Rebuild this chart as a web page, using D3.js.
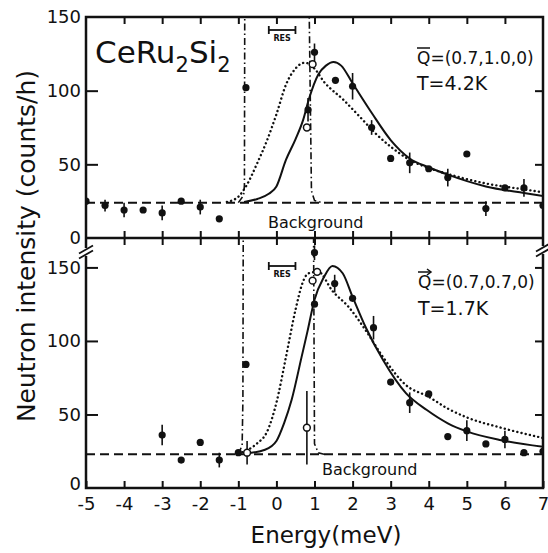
<!DOCTYPE html>
<html>
<head>
<meta charset="utf-8">
<script src="https://cdn.jsdelivr.net/npm/d3@7"></script>
<style>
  html, body { margin: 0; padding: 0; background: #fff; }
  svg { display: block; }
  text { font-family: "DejaVu Sans", "Noto Sans", sans-serif; fill: #111; }
</style>
</head>
<body>
<svg id="chart" width="548" height="553"></svg>
<script>
// ---- axis ticks ----
const energyTicks = d3.range(-5, 8);            // meV
const intensityTicks = [0, 50, 100, 150];        // counts/h

// ---- upper panel: Q = (0.7, 1.0, 0), T = 4.2 K ----
// [energy, intensity, error]
const upperFilled = [
  [-5.0, 25, 0], [-4.5, 22, 4], [-4.0, 19, 5], [-3.5, 19, 0], [-3.0, 17, 5],
  [-2.5, 25, 0], [-2.0, 21, 5], [-1.5, 13, 0], [-0.8, 102, 0], [0.83, 87, 8],
  [1.0, 126, 6], [1.55, 107, 0], [2.0, 103, 9], [2.5, 75, 5], [3.0, 54, 0],
  [3.5, 51, 7], [4.0, 47, 0], [4.5, 41, 6], [5.0, 57, 0], [5.5, 20, 5],
  [6.0, 34, 0], [6.5, 34, 6], [7.0, 22, 0]
];
const upperOpen = [[0.8, 75, 0], [0.95, 118, 0]];
const upperFit = [
  [-0.85, 24.5], [-0.5, 26.5], [-0.2, 30], [0, 35], [0.25, 53], [0.5, 67],
  [0.7, 80], [0.85, 94], [1.1, 111], [1.3, 117], [1.5, 119.5], [1.7, 117],
  [2.0, 105], [2.5, 85], [3.0, 66.5], [3.5, 54], [4.0, 48], [4.5, 43],
  [5.5, 35], [6.5, 30.5], [7.0, 28.5]
];
const upperModel = [
  [-1.3, 24.5], [-1.0, 28], [-0.8, 35], [-0.5, 51], [-0.25, 66], [0, 84],
  [0.25, 104], [0.5, 115], [0.75, 119], [1.0, 115], [1.25, 106], [1.75, 94],
  [2.2, 82], [2.6, 71], [3.0, 62], [3.5, 53], [4.0, 47.5], [4.5, 43.5],
  [5.5, 37], [6.5, 33], [7.0, 31]
];
const upperElastic = [
  [-1.0, 24], [-0.86, 29], [-0.84, 36], [-0.82, 320],
  [0.78, 320], [0.92, 32], [1.0, 25.5], [1.2, 24]
];
const upperBackground = 24;

// ---- lower panel: Q = (0.7, 0.7, 0), T = 1.7 K ----
const lowerFilled = [
  [-3.0, 36, 7], [-2.5, 19, 0], [-2.0, 31, 0], [-1.5, 19, 5], [-1.0, 24, 0],
  [-0.8, 84, 0], [1.0, 160, 5], [1.0, 125, 0], [1.53, 139, 6], [2.0, 129, 0],
  [2.55, 109, 8], [3.0, 72, 0], [3.5, 58, 7], [4.0, 64, 0], [4.5, 35, 0],
  [5.0, 39, 7], [5.5, 30, 0], [6.0, 33, 6], [6.5, 24, 0], [7.0, 25, 0]
];
const lowerOpen = [[-0.77, 24, 8], [0.8, 41, 25], [0.95, 141, 0], [1.07, 147, 0]];
const lowerFit = [
  [-0.8, 23.5], [-0.3, 26], [0, 32], [0.2, 44], [0.4, 60], [0.66, 89],
  [0.82, 107], [1.0, 128], [1.24, 143], [1.47, 151], [1.74, 146], [2.0, 130],
  [2.35, 109], [2.8, 87], [3.4, 64.5], [3.95, 53], [4.5, 44], [5.0, 38.5],
  [5.9, 32.5], [7.0, 28]
];
const lowerModel = [
  [-1.0, 23.5], [-0.75, 26], [-0.5, 30.5], [-0.25, 38], [0, 58], [0.25, 89],
  [0.5, 121], [0.68, 139], [0.84, 146], [1.1, 147], [1.47, 134], [1.9, 123],
  [2.35, 107], [2.8, 89], [3.4, 70], [4.0, 62], [4.5, 54], [5.0, 48],
  [5.9, 41], [7.0, 34]
];
const lowerElastic = [
  [-1.0, 23], [-0.9, 29], [-0.88, 60], [-0.86, 320],
  [0.95, 320], [1.0, 30], [1.1, 24], [1.25, 23]
];
const lowerBackground = 23;

// instrumental resolution bar (meV)
const resolution = [-0.2, 0.5];

// ---- layout ----
const svg = d3.select("#chart");
const left = 86, right = 543;
const topY = 17, midY = 238, bottomY = 488;
const ink = "#111";

const x = d3.scaleLinear().domain([-5, 7]).range([left, right]);
const yUpper = d3.scaleLinear().domain([0, 150]).range([midY, topY]);
const yLower = d3.scaleLinear().domain([0, 170]).range([bottomY, midY]);

const defs = svg.append("defs");
defs.append("clipPath").attr("id", "clipUpper")
  .append("rect").attr("x", left).attr("y", topY).attr("width", right - left).attr("height", midY - topY);
defs.append("clipPath").attr("id", "clipLower")
  .append("rect").attr("x", left).attr("y", midY).attr("width", right - left).attr("height", bottomY - midY);

function styleAxis(g, fontSize) {
  g.select(".domain").remove();
  g.selectAll(".tick line").attr("stroke", ink).attr("stroke-width", 2);
  g.selectAll(".tick text").attr("font-size", fontSize).attr("fill", ink)
    .style("font-family", '"DejaVu Sans", sans-serif');
}

// energy axis ticks: bottom (labelled, pointing up), middle (both sides), top (down)
svg.append("g").attr("transform", `translate(0,${bottomY})`)
  .call(d3.axisBottom(x).tickValues(energyTicks).tickSizeInner(-7).tickSizeOuter(0).tickPadding(9)
    .tickFormat(d => d < 0 ? "-" + Math.abs(d) : d))
  .call(g => styleAxis(g, 18));

svg.append("g").attr("transform", `translate(0,${midY})`)
  .call(d3.axisBottom(x).tickValues(energyTicks.slice(1, -1)).tickSizeInner(-7).tickSizeOuter(0).tickFormat(""))
  .call(g => styleAxis(g, 0));
svg.append("g").attr("transform", `translate(0,${midY})`)
  .call(d3.axisTop(x).tickValues(energyTicks.slice(1, -1)).tickSizeInner(-7).tickSizeOuter(0).tickFormat(""))
  .call(g => styleAxis(g, 0));
svg.append("g").attr("transform", `translate(0,${topY})`)
  .call(d3.axisTop(x).tickValues(energyTicks.slice(1, -1)).tickSizeInner(-7).tickSizeOuter(0).tickFormat(""))
  .call(g => styleAxis(g, 0));

// intensity axes, left (labelled) and right
[[yUpper, intensityTicks], [yLower, intensityTicks]].forEach(([y, ticks]) => {
  svg.append("g").attr("transform", `translate(${left},0)`)
    .call(d3.axisLeft(y).tickValues(ticks).tickSizeInner(-12).tickSizeOuter(0).tickPadding(5))
    .call(g => styleAxis(g, 18))
    .call(g => g.selectAll(".tick").filter(d => d === 0).select("line").remove())
    .call(g => g.selectAll(".tick").filter(d => d === 150 && y === yUpper).select("line").remove())
    .call(g => { if (y === yLower) g.selectAll(".tick").filter(d => d === 0).select("text").attr("dy", "0.1em"); });
  svg.append("g").attr("transform", `translate(${right},0)`)
    .call(d3.axisRight(y).tickValues(ticks.filter(t => t > 0 && !(t === 150 && y === yUpper)))
      .tickSizeInner(-8).tickSizeOuter(0).tickFormat(""))
    .call(g => styleAxis(g, 0));
});

// frame
const frame = svg.append("g").attr("stroke", ink).attr("stroke-width", 2.5).attr("fill", "none");
frame.append("rect").attr("x", left).attr("y", topY).attr("width", right - left).attr("height", bottomY - topY);
frame.append("line").attr("x1", left).attr("x2", right).attr("y1", midY).attr("y2", midY);

// axis break marks
function breakMark(cx, cy) {
  const g = svg.append("g");
  g.append("rect").attr("x", cx - 3).attr("y", cy - 4).attr("width", 6).attr("height", 8).attr("fill", "#fff");
  [-2.5, 2.5].forEach(o => g.append("line")
    .attr("x1", cx - 7).attr("y1", cy + 4 + o).attr("x2", cx + 7).attr("y2", cy - 4 + o)
    .attr("stroke", ink).attr("stroke-width", 1.8));
}
breakMark(left, 252);
breakMark(right, 250);

// ---- panels ----
function drawPanel(y, clip, data) {
  const g = svg.append("g").attr("clip-path", `url(#${clip})`);
  const line = d3.line().x(d => x(d[0])).y(d => y(d[1])).curve(d3.curveMonotoneX);
  const straight = d3.line().x(d => x(d[0])).y(d => y(d[1]));

  // background
  g.append("line").attr("x1", x(-5)).attr("x2", x(7))
    .attr("y1", y(data.background)).attr("y2", y(data.background))
    .attr("stroke", ink).attr("stroke-width", 2).attr("stroke-dasharray", "9,5");

  // elastic (resolution-limited) contribution
  g.append("path").attr("d", straight(data.elastic)).attr("fill", "none")
    .attr("stroke", ink).attr("stroke-width", 1.6).attr("stroke-dasharray", "7,3,1.5,3");

  // model (dotted) and fit (solid)
  g.append("path").attr("d", line(data.model)).attr("fill", "none")
    .attr("stroke", ink).attr("stroke-width", 2.4).attr("stroke-linecap", "round")
    .attr("stroke-dasharray", "0.1,4.2");
  g.append("path").attr("d", line(data.fit)).attr("fill", "none")
    .attr("stroke", ink).attr("stroke-width", 2);

  // error bars
  const all = data.filled.concat(data.open).filter(d => d[2] > 0);
  g.selectAll(".err").data(all).join("line")
    .attr("x1", d => x(d[0])).attr("x2", d => x(d[0]))
    .attr("y1", d => y(d[1] - d[2])).attr("y2", d => y(d[1] + d[2]))
    .attr("stroke", ink).attr("stroke-width", 1.6);

  g.selectAll(".pt").data(data.filled).join("circle")
    .attr("cx", d => x(d[0])).attr("cy", d => y(d[1])).attr("r", 3.6).attr("fill", ink);
  g.selectAll(".op").data(data.open).join("circle")
    .attr("cx", d => x(d[0])).attr("cy", d => y(d[1])).attr("r", 3.4)
    .attr("fill", "#fff").attr("stroke", ink).attr("stroke-width", 1.5);
}

drawPanel(yUpper, "clipUpper", {
  filled: upperFilled, open: upperOpen, fit: upperFit, model: upperModel,
  elastic: upperElastic, background: upperBackground
});
drawPanel(yLower, "clipLower", {
  filled: lowerFilled, open: lowerOpen, fit: lowerFit, model: lowerModel,
  elastic: lowerElastic, background: lowerBackground
});

// resolution bars
function resBar(yPix) {
  const g = svg.append("g").attr("stroke", ink).attr("stroke-width", 1.8);
  const x0 = x(resolution[0]), x1 = x(resolution[1]);
  g.append("line").attr("x1", x0).attr("x2", x1).attr("y1", yPix).attr("y2", yPix);
  g.append("line").attr("x1", x0).attr("x2", x0).attr("y1", yPix - 4).attr("y2", yPix + 4);
  g.append("line").attr("x1", x1).attr("x2", x1).attr("y1", yPix - 4).attr("y2", yPix + 4);
  svg.append("text").attr("x", (x0 + x1) / 2).attr("y", yPix + 11).attr("text-anchor", "middle")
    .attr("font-size", 8).attr("font-weight", "bold").text("RES");
}
resBar(30);
resBar(266);

// ---- labels ----
const title = svg.append("text").attr("x", 95).attr("y", 63).attr("font-size", 31);
title.append("tspan").text("CeRu");
title.append("tspan").attr("font-size", 21).attr("dy", 9).text("2");
title.append("tspan").attr("dy", -9).text("Si");
title.append("tspan").attr("font-size", 21).attr("dy", 9).text("2");

function qLabel(xPix, yPix, text, arrow) {
  svg.append("text").attr("x", xPix).attr("y", yPix).attr("font-size", 17).text(text);
  const g = svg.append("g").attr("stroke", ink).attr("stroke-width", 1.5).attr("fill", "none");
  g.append("line").attr("x1", xPix).attr("x2", xPix + 13).attr("y1", yPix - 16).attr("y2", yPix - 16);
  if (arrow) g.append("path").attr("d", `M${xPix + 9},${yPix - 19} L${xPix + 13},${yPix - 16} L${xPix + 9},${yPix - 13}`);
}
qLabel(417, 64, "Q=(0.7,1.0,0)", false);
svg.append("text").attr("x", 417).attr("y", 90).attr("font-size", 19).text("T=4.2K");
qLabel(418, 288, "Q=(0.7,0.7,0)", true);
svg.append("text").attr("x", 418).attr("y", 315).attr("font-size", 19).text("T=1.7K");

svg.append("text").attr("x", 268).attr("y", 228).attr("font-size", 16).text("Background");
svg.append("text").attr("x", 322).attr("y", 475).attr("font-size", 16).text("Background");

// axis titles
svg.append("text").attr("x", 326).attr("y", 543).attr("text-anchor", "middle")
  .attr("font-size", 23).text("Energy(meV)");
svg.append("text").attr("transform", "translate(35,246) rotate(-90)")
  .attr("text-anchor", "middle").attr("font-size", 25).text("Neutron intensity (counts/h)");
</script>
</body>
</html>
